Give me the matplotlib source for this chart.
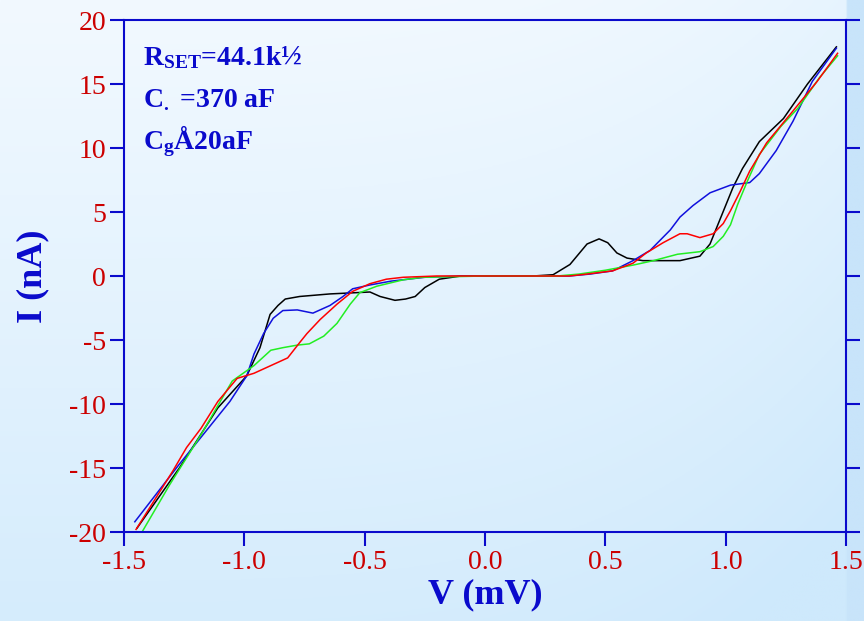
import matplotlib
matplotlib.use('Agg')
import matplotlib.pyplot as plt
import numpy as np
from matplotlib.ticker import FormatStrFormatter, MultipleLocator

plt.rcParams['font.family'] = ['Liberation Serif', 'DejaVu Serif']
plt.rcParams['axes.unicode_minus'] = False
plt.rcParams['mathtext.fontset'] = 'custom'
plt.rcParams['mathtext.rm'] = 'Liberation Serif:bold'
plt.rcParams['mathtext.bf'] = 'Liberation Serif:bold'

# I-V curves (V in mV, I in nA)
v_black = [-1.446, -1.27, -1.11, -0.99, -0.935, -0.893, -0.86, -0.83, -0.77, -0.644, -0.478, -0.436,
           -0.374, -0.33, -0.29, -0.25, -0.19, -0.1, 0.0, 0.1, 0.2, 0.283, 0.353, 0.424, 0.474,
           0.51, 0.548, 0.59, 0.656, 0.81, 0.893, 0.935, 0.976, 1.03, 1.07, 1.14, 1.24, 1.34, 1.46]
i_black = [-19.7, -15.0, -10.3, -7.8, -5.6, -3.0, -2.3, -1.8, -1.6, -1.4, -1.25, -1.6,
           -1.9, -1.8, -1.6, -0.9, -0.25, 0.0, 0.0, 0.0, 0.0, 0.1, 0.9, 2.5, 2.9,
           2.6, 1.8, 1.4, 1.2, 1.2, 1.55, 2.5, 4.4, 6.9, 8.4, 10.5, 12.3, 15.0, 17.9]

v_blue = [-1.455, -1.27, -1.06, -0.99, -0.96, -0.92, -0.88, -0.84, -0.78, -0.715, -0.644, -0.59,
          -0.55, -0.478, -0.39, -0.25, -0.1, 0.0, 0.2, 0.35, 0.436, 0.53, 0.615, 0.686, 0.77,
          0.81, 0.864, 0.935, 1.02, 1.10, 1.14, 1.21, 1.28, 1.36, 1.46]
i_blue = [-19.2, -14.7, -9.8, -7.8, -6.1, -4.5, -3.3, -2.7, -2.65, -2.9, -2.3, -1.6,
          -1.0, -0.7, -0.4, -0.1, 0.0, 0.0, 0.0, 0.0, 0.15, 0.4, 1.2, 2.0, 3.6,
          4.6, 5.5, 6.5, 7.1, 7.3, 8.0, 9.8, 12.1, 15.2, 17.8]

v_red = [-1.45, -1.296, -1.24, -1.18, -1.11, -1.03, -0.96, -0.89, -0.82, -0.77, -0.74, -0.685,
         -0.615, -0.55, -0.478, -0.41, -0.34, -0.2, 0.0, 0.2, 0.35, 0.424, 0.53, 0.615, 0.67,
         0.74, 0.81, 0.84, 0.893, 0.948, 0.99, 1.02, 1.06, 1.10, 1.17, 1.28, 1.38, 1.465]
i_red = [-19.8, -15.2, -13.4, -11.9, -9.8, -8.0, -7.6, -7.0, -6.4, -5.2, -4.5, -3.4,
         -2.2, -1.2, -0.6, -0.25, -0.1, 0.0, 0.0, 0.0, 0.0, 0.15, 0.4, 1.0, 1.8,
         2.6, 3.3, 3.3, 3.0, 3.3, 4.1, 5.1, 6.6, 8.2, 10.4, 12.9, 15.2, 17.4]

v_green = [-1.425, -1.31, -1.24, -1.18, -1.10, -1.05, -0.96, -0.89, -0.84, -0.78, -0.73, -0.67,
           -0.615, -0.56, -0.52, -0.45, -0.34, -0.26, 0.0, 0.2, 0.3, 0.39, 0.5, 0.615, 0.70,
           0.80, 0.893, 0.948, 0.99, 1.02, 1.05, 1.09, 1.14, 1.23, 1.30, 1.39, 1.465]
i_green = [-20.0, -16.3, -14.2, -12.4, -9.8, -8.2, -7.0, -5.8, -5.6, -5.4, -5.3, -4.7,
           -3.7, -2.2, -1.3, -0.8, -0.3, -0.1, 0.0, 0.0, 0.0, 0.15, 0.45, 0.85, 1.2,
           1.7, 1.9, 2.3, 3.1, 4.0, 5.6, 7.4, 9.5, 11.7, 13.1, 15.5, 17.2]

notes = [r'$\mathrm{R_{SET}}$=44.1k½', r'$\mathrm{C_{.}}$ =370 aF', r'$\mathrm{C_{g}}$Å20aF']

blue = '#0a0acc'
red = '#cc0000'

fig = plt.figure(figsize=(8.64, 6.21), dpi=100)

# light blue gradient background
bg = fig.add_axes([0, 0, 1, 1], zorder=-10)
bg.axis('off')
yy, xx = np.mgrid[0:1:200j, 0:1:300j]
t = np.clip(0.8 * yy + 0.35 * xx ** 4, 0, 1)
c0 = np.array([242, 249, 255]) / 255.0
c1 = np.array([206, 233, 252]) / 255.0
img = c0[None, None, :] * (1 - t[..., None]) + c1[None, None, :] * t[..., None]
img[:, xx[0] > 0.982] = np.array([200, 228, 250]) / 255.0
bg.imshow(img, extent=[0, 1, 0, 1], aspect='auto', origin='upper')

ax = fig.add_axes([124 / 864, 89 / 621, 722 / 864, 512 / 621])
ax.patch.set_alpha(0)

ax.plot(v_black, i_black, color='black', lw=1.1)
ax.plot(v_blue, i_blue, color='#1010dd', lw=1.1)
ax.plot(v_green, i_green, color='#22ee22', lw=1.1)
ax.plot(v_red, i_red, color='#ff0000', lw=1.1)

ax.set_xlim(-1.5, 1.5)
ax.set_ylim(-20, 20)
ax.xaxis.set_major_locator(MultipleLocator(0.5))
ax.xaxis.set_major_formatter(FormatStrFormatter('%.1f'))
ax.yaxis.set_major_locator(MultipleLocator(5))

for s in ax.spines.values():
    s.set_color(blue)
    s.set_linewidth(1.5)

ax.tick_params(axis='x', direction='out', length=10, width=1.5, color=blue,
               labelcolor=red, labelsize=20, pad=3)
ax.tick_params(axis='y', direction='out', length=10, width=1.5, color=blue,
               labelcolor=red, labelsize=20, pad=3, right=True)

ax.set_xlabel('V (mV)', fontsize=26, fontweight='bold', color=blue, labelpad=2)
ax.set_ylabel('I (nA)', fontsize=26, fontweight='bold', color=blue, labelpad=14)

for k, s in enumerate(notes):
    ax.text(0.026, 0.912 - 0.082 * k, s, transform=ax.transAxes, fontsize=20,
            fontweight='bold', color=blue, va='baseline', ha='left')

fig.savefig('out.png', dpi=100)
